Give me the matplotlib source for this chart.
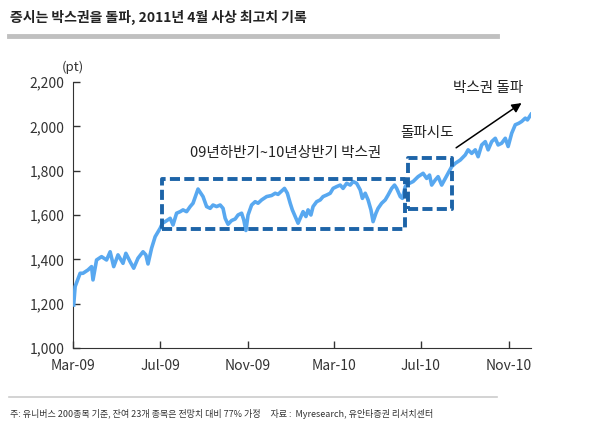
import matplotlib
matplotlib.use("Agg")
import matplotlib.pyplot as plt
import pandas as pd

plt.rcParams['font.family'] = ['Noto Sans CJK KR', 'DejaVu Sans']

# index level (pt)
dates = ["2009-03-02","2009-03-04","2009-03-11","2009-03-15","2009-03-22","2009-03-27","2009-03-29",
         "2009-04-03","2009-04-10","2009-04-17","2009-04-22","2009-04-27","2009-05-03","2009-05-10",
         "2009-05-14","2009-05-20","2009-05-25","2009-05-31","2009-06-07","2009-06-11","2009-06-14",
         "2009-06-19","2009-06-24","2009-07-01","2009-07-04","2009-07-08","2009-07-15","2009-07-19",
         "2009-07-24","2009-07-29","2009-08-02","2009-08-07","2009-08-12","2009-08-16","2009-08-20",
         "2009-08-23","2009-08-27","2009-08-30","2009-09-04","2009-09-09","2009-09-13","2009-09-18",
         "2009-09-23","2009-09-27","2009-09-30","2009-10-04","2009-10-09","2009-10-14","2009-10-18",
         "2009-10-23","2009-10-26","2009-10-29","2009-11-01","2009-11-06","2009-11-11","2009-11-15",
         "2009-11-20","2009-11-27","2009-12-04","2009-12-09","2009-12-13","2009-12-18","2009-12-22",
         "2009-12-26","2009-12-30","2010-01-02","2010-01-06","2010-01-10","2010-01-13","2010-01-17",
         "2010-01-21","2010-01-24","2010-01-28","2010-01-31","2010-02-05","2010-02-10","2010-02-14",
         "2010-02-19","2010-02-24","2010-02-28","2010-03-05","2010-03-10","2010-03-14","2010-03-19",
         "2010-03-24","2010-03-28","2010-04-02","2010-04-07","2010-04-10","2010-04-14","2010-04-18",
         "2010-04-22","2010-04-25","2010-04-29","2010-05-02","2010-05-07","2010-05-12","2010-05-16",
         "2010-05-21","2010-05-25","2010-05-28","2010-06-02","2010-06-05","2010-06-09","2010-06-13",
         "2010-06-20","2010-06-27","2010-07-04","2010-07-09","2010-07-13","2010-07-16","2010-07-21",
         "2010-07-25","2010-07-30","2010-08-04","2010-08-08","2010-08-13","2010-08-18","2010-08-25",
         "2010-09-01","2010-09-05","2010-09-10","2010-09-15","2010-09-19","2010-09-24","2010-09-29",
         "2010-10-03","2010-10-08","2010-10-13","2010-10-17","2010-10-22","2010-10-27","2010-10-31",
         "2010-11-05","2010-11-10","2010-11-15","2010-11-19","2010-11-24","2010-11-27","2010-12-02"]
values = [1194,1277,1337,1337,1352,1367,1307,
          1397,1412,1397,1434,1367,1420,1382,
          1427,1389,1360,1405,1434,1420,1379,
          1450,1502,1540,1562,1570,1585,1555,
          1608,1615,1623,1615,1638,1653,1690,
          1717,1698,1683,1638,1630,1645,1638,
          1645,1630,1585,1558,1575,1582,1600,
          1608,1578,1530,1600,1645,1660,1653,
          1668,1683,1688,1698,1693,1708,1720,
          1698,1653,1623,1593,1563,1585,1615,
          1593,1623,1600,1638,1660,1668,1683,
          1690,1698,1720,1728,1735,1720,1743,
          1735,1751,1743,1713,1675,1698,1668,
          1623,1570,1608,1630,1653,1668,1690,
          1720,1735,1720,1683,1675,1728,1740,
          1751,1773,1788,1765,1780,1735,1758,
          1773,1735,1765,1788,1818,1833,1848,
          1871,1894,1878,1894,1863,1916,1931,
          1894,1931,1946,1916,1924,1946,1909,
          1969,2007,2014,2022,2037,2029,2054]

# box ranges: (start, end, low, high)
box_range = ("2009-07-04", "2010-06-09", 1537, 1762)
box_break = ("2010-06-13", "2010-08-13", 1627, 1857)

x_ticks = ["2009-03-01", "2009-07-01", "2009-11-01", "2010-03-01", "2010-07-01", "2010-11-01"]
x_labels = ["Mar-09", "Jul-09", "Nov-09", "Mar-10", "Jul-10", "Nov-10"]
y_ticks = [1000, 1200, 1400, 1600, 1800, 2000, 2200]

title = "증시는 박스권을 돌파, 2011년 4월 사상 최고치 기록"
note = "주: 유니버스 200종목 기준, 잔여 23개 종목은 전망치 대비 77% 가정     자료 :  Myresearch, 유안타증권 리서치센터"

d = pd.to_datetime(dates)
fig = plt.figure(figsize=(5.9, 4.28), dpi=100)
ax = fig.add_axes([0.1237, 0.187, 0.7763, 0.6214])

ax.plot(d, values, color="#58a8f0", lw=2.6, zorder=3)

for s, e, lo, hi in [box_range, box_break]:
    xs = pd.to_datetime([s, e, e, s, s])
    ax.plot(xs, [lo, lo, hi, hi, lo], color="#1d64a8", lw=2.8, ls=(0, (2.6, 1.1)), zorder=4)

ax.annotate("", xy=(pd.Timestamp("2010-11-22"), 2112), xytext=(pd.Timestamp("2010-08-16"), 1896),
            arrowprops=dict(arrowstyle="-|>", color="black", lw=1.1, mutation_scale=14))
ax.text(pd.Timestamp("2010-10-03"), 2173, "박스권 돌파", ha="center", va="center", fontsize=10.5, color="#222222")
ax.text(pd.Timestamp("2010-07-10"), 1970, "돌파시도", ha="center", va="center", fontsize=10.5, color="#222222")
ax.text(pd.Timestamp("2009-12-23"), 1880, "09년하반기~10년상반기 박스권", ha="center", va="center",
        fontsize=10.5, color="#222222")

ax.set_xlim(pd.Timestamp(x_ticks[0]), d[-1])
ax.set_ylim(1000, 2200)
ax.set_xticks(pd.to_datetime(x_ticks))
ax.set_xticklabels(x_labels)
ax.set_yticks(y_ticks)
ax.set_yticklabels([f"{v:,}" for v in y_ticks])
ax.tick_params(direction="in", length=5, width=1, colors="#333333", labelsize=10, pad=6)
ax.tick_params(axis="x", pad=8)
for side in ["top", "right"]:
    ax.spines[side].set_visible(False)
for side in ["left", "bottom"]:
    ax.spines[side].set_color("#333333")
ax.text(0, 1.055, "(pt)", transform=ax.transAxes, ha="center", va="center", fontsize=9.5, color="#333333")

fig.text(0.017, 0.958, title, ha="left", va="center", fontsize=10, fontweight="bold", color="#222222")
fig.add_artist(plt.Line2D([0.016, 0.842], [0.917, 0.917], color="#c0c0c0", lw=3.5))
fig.add_artist(plt.Line2D([0.016, 0.842], [0.072, 0.072], color="#cccccc", lw=1.2))
fig.text(0.017, 0.033, note, ha="left", va="center", fontsize=6.5, color="#333333")

fig.savefig("out.png", dpi=100)
